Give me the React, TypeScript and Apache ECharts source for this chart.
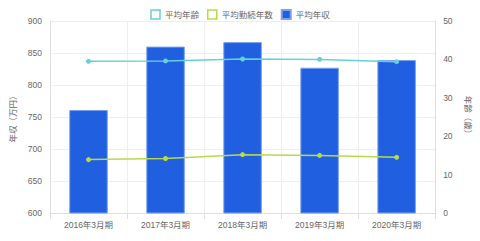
import React, { useEffect, useRef } from "react";
import * as echarts from "echarts";

const categories = ["2016年3月期", "2017年3月期", "2018年3月期", "2019年3月期", "2020年3月期"];
const avgIncome = [761, 860, 867, 827, 839];
const avgAge = [39.5, 39.6, 40.1, 40.0, 39.4];
const avgTenure = [13.9, 14.2, 15.2, 15.0, 14.5];

const FONT = '"Liberation Sans", "Noto Sans CJK JP", sans-serif';
const LABEL_COLOR = "#666";
const FS = 8.5;

export default function App() {
  const ref = useRef<HTMLDivElement>(null);

  useEffect(() => {
    if (!ref.current) return;
    const chart = echarts.init(ref.current, undefined, { renderer: "svg" });
    chart.setOption({
      animation: false,
      textStyle: { fontFamily: FONT },
      legend: {
        top: 4,
        left: "center",
        itemWidth: 9,
        itemHeight: 9,
        itemGap: 8,
        textStyle: { fontSize: FS, color: LABEL_COLOR, fontFamily: FONT },
        data: [
          { name: "平均年齢", icon: "rect", itemStyle: { color: "#fff", borderColor: "#66d0d8", borderWidth: 1.5 } },
          { name: "平均勤続年数", icon: "rect", itemStyle: { color: "#fff", borderColor: "#b9d94c", borderWidth: 1.5 } },
          { name: "平均年収", icon: "rect" },
        ],
      },
      grid: { left: 50, right: 38, top: 21, bottom: 28 },
      xAxis: {
        type: "category",
        data: categories,
        axisLine: { lineStyle: { color: "#ddd" } },
        axisTick: { show: true, length: 6, lineStyle: { color: "#ddd" } },
        axisLabel: { fontSize: FS, color: LABEL_COLOR, margin: 8 },
        splitLine: { show: true, lineStyle: { color: "#eee" } },
      },
      yAxis: [
        {
          type: "value",
          min: 600,
          max: 900,
          interval: 50,
          name: "年収（万円）",
          nameLocation: "middle",
          nameGap: 30,
          nameTextStyle: { fontSize: FS, color: LABEL_COLOR },
          axisLine: { show: true, lineStyle: { color: "#ddd" } },
          axisLabel: { fontSize: FS, color: LABEL_COLOR, margin: 8 },
          splitLine: { lineStyle: { color: "#eee" } },
        },
        {
          type: "value",
          min: 0,
          max: 50,
          interval: 10,
          name: "年齢（歳）",
          nameLocation: "middle",
          nameGap: 28,
          nameRotate: -90,
          nameTextStyle: { fontSize: FS, color: LABEL_COLOR },
          axisLine: { show: true, lineStyle: { color: "#ddd" } },
          axisLabel: { fontSize: FS, color: LABEL_COLOR, margin: 8 },
          splitLine: { show: false },
        },
      ],
      series: [
        {
          name: "平均年齢",
          type: "line",
          yAxisIndex: 1,
          data: avgAge,
          symbol: "circle",
          symbolSize: 5,
          lineStyle: { color: "#66d0d8", width: 1.5 },
          itemStyle: { color: "#66d0d8" },
          z: 3,
        },
        {
          name: "平均勤続年数",
          type: "line",
          yAxisIndex: 1,
          data: avgTenure,
          symbol: "circle",
          symbolSize: 5,
          lineStyle: { color: "#b9d94c", width: 1.5 },
          itemStyle: { color: "#b9d94c" },
          z: 3,
        },
        {
          name: "平均年収",
          type: "bar",
          yAxisIndex: 0,
          data: avgIncome,
          barWidth: "50%",
          itemStyle: { color: "#1f5fe0", borderColor: "#7aa0f0", borderWidth: 1 },
          z: 2,
        },
      ],
    });
    return () => chart.dispose();
  }, []);

  return (
    <div
      ref={ref}
      style={{ position: "fixed", left: 0, top: 0, width: 480, height: 241, background: "#fff" }}
    />
  );
}
